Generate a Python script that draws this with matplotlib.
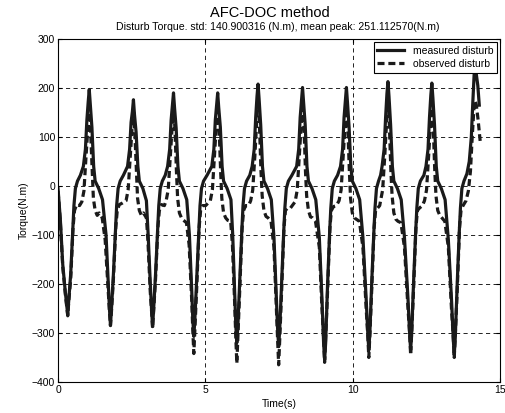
import matplotlib
matplotlib.use("Agg")
import matplotlib.pyplot as plt

# measured disturbance torque: (time s, torque N.m), one cycle per line
meas_points = [
    (0.00, -5), (0.08, -70), (0.16, -160), (0.25, -218),
    (0.30, -245), (0.33, -263), (0.365, -232), (0.43, -180), (0.50, -90), (0.54, -40), (0.59, -5), (0.66, 10), (0.76, 22), (0.86, 40), (0.93, 75), (0.98, 135), (1.025, 172), (1.06, 197), (1.095, 167), (1.15, 120), (1.21, 40), (1.26, 10), (1.38, -5), (1.51, -28), (1.63, -100), (1.71, -205),
    (1.745, -250), (1.78, -284), (1.815, -250), (1.88, -180), (1.95, -90), (1.99, -40), (2.04, -5), (2.11, 10), (2.22, 22), (2.36, 40), (2.43, 75), (2.48, 130), (2.525, 152), (2.56, 176), (2.595, 146), (2.65, 110), (2.71, 40), (2.76, 10), (2.88, -5), (3.00, -30), (3.06, -100), (3.14, -210),
    (3.175, -252), (3.21, -287), (3.245, -252), (3.31, -180), (3.38, -90), (3.42, -40), (3.47, -5), (3.54, 10), (3.64, 22), (3.72, 40), (3.79, 75), (3.84, 135), (3.885, 165), (3.92, 190), (3.955, 160), (4.01, 118), (4.07, 40), (4.12, 10), (4.24, -5), (4.37, -28), (4.46, -100), (4.54, -215),
    (4.575, -272), (4.61, -307), (4.645, -272), (4.71, -185), (4.78, -90), (4.82, -40), (4.87, -5), (4.94, 10), (5.06, 22), (5.22, 40), (5.29, 75), (5.34, 135), (5.385, 165), (5.42, 190), (5.455, 160), (5.51, 120), (5.57, 40), (5.62, 10), (5.74, -5), (5.87, -28), (5.93, -100), (6.00, -220),
    (6.035, -285), (6.07, -320), (6.105, -285), (6.17, -190), (6.24, -90), (6.28, -40), (6.33, -5), (6.40, 10), (6.51, 22), (6.59, 40), (6.66, 75), (6.71, 140), (6.755, 183), (6.79, 208), (6.825, 178), (6.88, 125), (6.94, 40), (6.99, 10), (7.11, -5), (7.24, -28), (7.33, -105), (7.41, -225),
    (7.455, -293), (7.49, -328), (7.525, -293), (7.59, -195), (7.66, -95), (7.70, -45), (7.75, -5), (7.82, 10), (7.94, 22), (8.10, 40), (8.17, 75), (8.22, 140), (8.265, 176), (8.30, 201), (8.335, 171), (8.39, 125), (8.45, 40), (8.50, 10), (8.62, -5), (8.75, -28), (8.87, -105), (8.96, -230),
    (9.015, -320), (9.05, -355), (9.085, -320), (9.15, -200), (9.22, -95), (9.26, -45), (9.31, -5), (9.38, 10), (9.49, 22), (9.59, 40), (9.66, 75), (9.71, 140), (9.755, 176), (9.79, 201), (9.825, 171), (9.88, 120), (9.94, 40), (9.99, 10), (10.11, -5), (10.24, -28), (10.35, -105), (10.46, -230),
    (10.515, -300), (10.55, -335), (10.585, -300), (10.65, -195), (10.72, -95), (10.76, -45), (10.81, -5), (10.88, 10), (10.95, 22), (11.00, 40), (11.07, 75), (11.12, 140), (11.165, 188), (11.20, 213), (11.235, 183), (11.29, 125), (11.35, 40), (11.40, 10), (11.52, -5), (11.65, -28), (11.76, -105), (11.88, -230),
    (11.935, -300), (11.97, -335), (12.005, -300), (12.07, -195), (12.14, -95), (12.18, -45), (12.23, -5), (12.30, 10), (12.42, 22), (12.49, 40), (12.56, 75), (12.61, 140), (12.655, 185), (12.69, 210), (12.725, 180), (12.78, 125), (12.84, 40), (12.89, 10), (13.01, -5), (13.14, -28), (13.25, -110), (13.36, -235),
    (13.415, -310), (13.45, -345), (13.485, -310), (13.55, -200), (13.62, -95), (13.66, -45), (13.71, -5), (13.78, 10), (13.88, 25), (13.96, 50), (14.03, 100), (14.08, 170), (14.125, 227), (14.16, 252), (14.195, 230), (14.25, 205), (14.30, 165),
]

# observed disturbance torque (DOC estimate)
obs_points = [
    (0.00, -10), (0.08, -75), (0.16, -165), (0.25, -222),
    (0.30, -248), (0.33, -265), (0.365, -235), (0.43, -190), (0.51, -85), (0.56, -50), (0.63, -38), (0.73, -40), (0.81, -32), (0.88, -10), (0.95, 60), (1.01, 115), (1.05, 140), (1.07, 150), (1.11, 105), (1.16, 30), (1.20, -25), (1.26, -50), (1.33, -60), (1.40, -55), (1.50, -65), (1.60, -110), (1.70, -210),
    (1.745, -255), (1.78, -285), (1.815, -255), (1.88, -190), (1.96, -85), (2.01, -50), (2.08, -38), (2.18, -35), (2.31, -30), (2.38, -8), (2.45, 60), (2.51, 115), (2.545, 140), (2.57, 150), (2.61, 105), (2.66, 30), (2.70, -25), (2.76, -50), (2.83, -60), (2.90, -55), (3.00, -65), (3.05, -110), (3.13, -215),
    (3.175, -255), (3.21, -290), (3.245, -255), (3.31, -190), (3.39, -85), (3.44, -50), (3.51, -38), (3.61, -40), (3.67, -30), (3.74, -8), (3.81, 60), (3.87, 120), (3.905, 150), (3.93, 160), (3.97, 115), (4.02, 30), (4.06, -25), (4.12, -55), (4.19, -65), (4.26, -70), (4.36, -75), (4.45, -120), (4.54, -235),
    (4.575, -295), (4.61, -342), (4.645, -295), (4.71, -205), (4.79, -85), (4.84, -50), (4.91, -40), (5.01, -40), (5.17, -30), (5.24, -8), (5.31, 60), (5.37, 120), (5.405, 155), (5.43, 165), (5.47, 115), (5.52, 30), (5.56, -25), (5.62, -55), (5.69, -65), (5.76, -70), (5.86, -72), (5.92, -120), (6.00, -245),
    (6.035, -310), (6.07, -362), (6.105, -310), (6.17, -210), (6.25, -85), (6.30, -50), (6.37, -40), (6.47, -40), (6.54, -30), (6.61, -8), (6.68, 60), (6.74, 125), (6.775, 165), (6.80, 175), (6.84, 120), (6.89, 30), (6.93, -20), (6.99, -50), (7.06, -62), (7.13, -65), (7.23, -72), (7.33, -125), (7.41, -250),
    (7.455, -315), (7.49, -365), (7.525, -315), (7.59, -215), (7.67, -85), (7.72, -50), (7.79, -45), (7.89, -45), (8.05, -32), (8.12, -8), (8.19, 60), (8.25, 120), (8.285, 160), (8.31, 170), (8.35, 120), (8.40, 30), (8.44, -20), (8.50, -50), (8.57, -63), (8.64, -65), (8.74, -72), (8.87, -125), (8.96, -250),
    (9.015, -310), (9.05, -360), (9.085, -310), (9.15, -215), (9.23, -85), (9.28, -50), (9.35, -42), (9.45, -40), (9.54, -30), (9.61, -8), (9.68, 60), (9.74, 120), (9.775, 160), (9.80, 170), (9.84, 115), (9.89, 30), (9.93, -25), (9.99, -55), (10.06, -65), (10.13, -68), (10.23, -72), (10.35, -125), (10.46, -250),
    (10.515, -305), (10.55, -350), (10.585, -305), (10.65, -210), (10.73, -85), (10.78, -50), (10.85, -45), (10.92, -40), (10.95, -30), (11.02, -8), (11.09, 60), (11.15, 125), (11.185, 165), (11.21, 175), (11.25, 120), (11.30, 30), (11.34, -20), (11.40, -55), (11.47, -68), (11.54, -72), (11.64, -75), (11.76, -125), (11.88, -250),
    (11.935, -300), (11.97, -345), (12.005, -300), (12.07, -210), (12.15, -85), (12.20, -50), (12.27, -45), (12.37, -40), (12.44, -30), (12.51, -8), (12.58, 60), (12.64, 120), (12.675, 160), (12.70, 170), (12.74, 115), (12.79, 30), (12.83, -20), (12.89, -50), (12.96, -60), (13.03, -65), (13.13, -72), (13.25, -125), (13.36, -255),
    (13.415, -305), (13.45, -350), (13.485, -305), (13.55, -215), (13.63, -85), (13.68, -50), (13.75, -40), (13.85, -30), (13.93, -10), (14.00, 30), (14.06, 100), (14.12, 160), (14.16, 174), (14.20, 165), (14.26, 135), (14.33, 92),
]

x_ticks = [0, 5, 10, 15]
y_ticks = [-400, -300, -200, -100, 0, 100, 200, 300]

t_meas, y_meas = zip(*meas_points)
t_obs, y_obs = zip(*obs_points)

plt.rcParams["font.family"] = ["Liberation Sans", "DejaVu Sans"]

fig = plt.figure(figsize=(5.05, 4.13), dpi=100)
ax = fig.add_axes([0.1149, 0.0751, 0.875, 0.8305])

ax.plot(t_meas, y_meas, color="#1a1a1a", lw=2.3, label="measured disturb",
        solid_joinstyle="round")
ax.plot(t_obs, y_obs, color="#1a1a1a", lw=2.3, ls=(0, (2.2, 1.2)),
        dash_joinstyle="round", label="observed disturb")

ax.set_xlim(0, 15)
ax.set_ylim(-400, 300)
ax.set_xticks(x_ticks)
ax.set_yticks(y_ticks)
ax.grid(True, color="black", ls=(0, (5, 4)), lw=0.6)
ax.tick_params(direction="in", top=True, right=True, labelsize=7.5, length=3, pad=2)
for s in ax.spines.values():
    s.set_linewidth(0.8)

ax.set_xlabel("Time(s)", fontsize=7.5, labelpad=3)
ax.set_ylabel("Torque(N.m)", fontsize=7.5, labelpad=2)

fig.text(0.535, 0.968, "AFC-DOC method", ha="center", va="center", fontsize=10.5)
fig.text(0.55, 0.935, "Disturb Torque. std: 140.900316 (N.m), mean peak: 251.112570(N.m)",
         ha="center", va="center", fontsize=7.6)

leg = ax.legend(loc="upper right", fontsize=7.5, fancybox=False, framealpha=1,
                edgecolor="black", borderaxespad=0.3, handlelength=2.6,
                borderpad=0.35, labelspacing=0.3)
leg.get_frame().set_linewidth(0.8)

fig.savefig("out.png", dpi=100, facecolor="white")
